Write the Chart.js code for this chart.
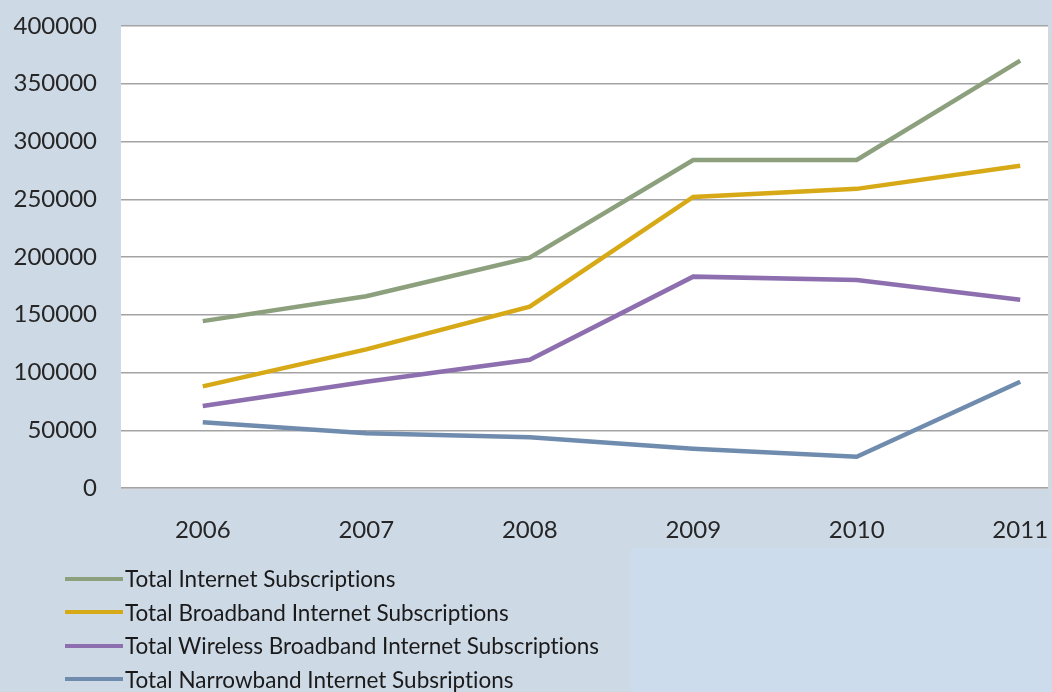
<!DOCTYPE html>
<html lang="en">
<head>
    <meta charset="UTF-8">
    <title>Internet Subscriptions 2006-2011</title>
    <script src="https://cdn.jsdelivr.net/npm/chart.js"></script>
    <style>
        html, body {
            margin: 0;
            padding: 0;
            overflow: hidden;
            background-color: #ced9e6;
        }

        #wrap {
            position: relative;
            width: 1052px;
            height: 692px;
        }

        #panel {
            position: absolute;
            left: 631px;
            top: 548px;
            width: 421px;
            height: 144px;
            background-color: #ccdcec;
        }

        canvas {
            position: absolute;
            left: 0;
            top: 0;
        }

        #legend {
            position: absolute;
            left: 65px;
            top: 562px;
            font-family: "Lato", sans-serif;
            font-size: 22.5px;
            font-variant-ligatures: none;
            color: #1a1a1a;
        }

        .row {
            display: flex;
            align-items: center;
            height: 33.5px;
        }

        .swatch {
            width: 58px;
            height: 4px;
            margin-right: 2px;
        }
    </style>
</head>
<body>
    <div id="wrap">
        <div id="panel"></div>
        <canvas id="subsChart" width="1052" height="692"></canvas>
        <div id="legend"></div>
    </div>

    <script>
        const years = [2006, 2007, 2008, 2009, 2010, 2011];
        const totalInternet = [144500, 166000, 199500, 284000, 284000, 370000];
        const totalBroadband = [88000, 120000, 157000, 252000, 259000, 279000];
        const wirelessBroadband = [71000, 92000, 111000, 183000, 180000, 163000];
        const narrowband = [57000, 47500, 44000, 34000, 27000, 92000];

        const seriesNames = [
            "Total Internet Subscriptions",
            "Total Broadband Internet Subscriptions",
            "Total Wireless Broadband Internet Subscriptions",
            "Total Narrowband Internet Subsriptions"
        ];
        const seriesValues = [totalInternet, totalBroadband, wirelessBroadband, narrowband];
        const seriesColors = ["#8ca07d", "#d7a916", "#8d6fb0", "#6f8cae"];

        // white plotting area with a faint edge on the right and bottom
        const plotBackground = {
            id: "plotBackground",
            beforeDraw(chart) {
                const { ctx, chartArea: a } = chart;
                ctx.save();
                ctx.fillStyle = "#d4d9df";
                ctx.fillRect(a.left + 2, a.top + 2, a.right - a.left, a.bottom - a.top);
                ctx.fillStyle = "#ffffff";
                ctx.fillRect(a.left, a.top, a.right - a.left, a.bottom - a.top);
                ctx.restore();
            }
        };

        const ctx = document.getElementById("subsChart").getContext("2d");

        const chart = new Chart(ctx, {
            type: "line",
            data: {
                datasets: seriesNames.map((name, i) => ({
                    label: name,
                    data: years.map((yr, j) => ({ x: yr, y: seriesValues[i][j] })),
                    borderColor: seriesColors[i],
                    backgroundColor: seriesColors[i],
                    borderWidth: 4.5,
                    pointRadius: 0,
                    tension: 0,
                    fill: false
                }))
            },
            options: {
                responsive: false,
                animation: false,
                layout: {
                    padding: { top: 26, right: 4, left: 0, bottom: 0 }
                },
                scales: {
                    x: {
                        type: "linear",
                        min: 2005.5,
                        max: 2011.17,
                        afterFit: (scale) => {
                            scale.height = 204;
                            scale.paddingLeft = 0;
                            scale.paddingRight = 0;
                        },
                        grid: { display: false },
                        border: { display: false },
                        ticks: {
                            stepSize: 1,
                            includeBounds: false,
                            padding: 20,
                            color: "#262626",
                            font: { family: "Lato", size: 24 },
                            callback: (v) => String(v)
                        }
                    },
                    y: {
                        min: 0,
                        max: 400000,
                        afterFit: (scale) => {
                            scale.width = 121;
                            scale.paddingTop = 0;
                            scale.paddingBottom = 0;
                        },
                        grid: {
                            color: "#a3a3a3",
                            lineWidth: 1.5,
                            drawTicks: false
                        },
                        border: { display: false },
                        ticks: {
                            stepSize: 50000,
                            padding: 24,
                            color: "#262626",
                            font: { family: "Lato", size: 24 },
                            callback: (v) => String(v)
                        }
                    }
                },
                plugins: {
                    legend: { display: false },
                    tooltip: { enabled: false }
                }
            },
            plugins: [plotBackground]
        });

        // legend list under the chart, one series per row
        const legendBox = document.getElementById("legend");
        chart.data.datasets.forEach((ds) => {
            const row = document.createElement("div");
            row.className = "row";
            const sw = document.createElement("span");
            sw.className = "swatch";
            sw.style.backgroundColor = ds.borderColor;
            const txt = document.createElement("span");
            txt.textContent = ds.label;
            row.appendChild(sw);
            row.appendChild(txt);
            legendBox.appendChild(row);
        });
    </script>
</body>
</html>
